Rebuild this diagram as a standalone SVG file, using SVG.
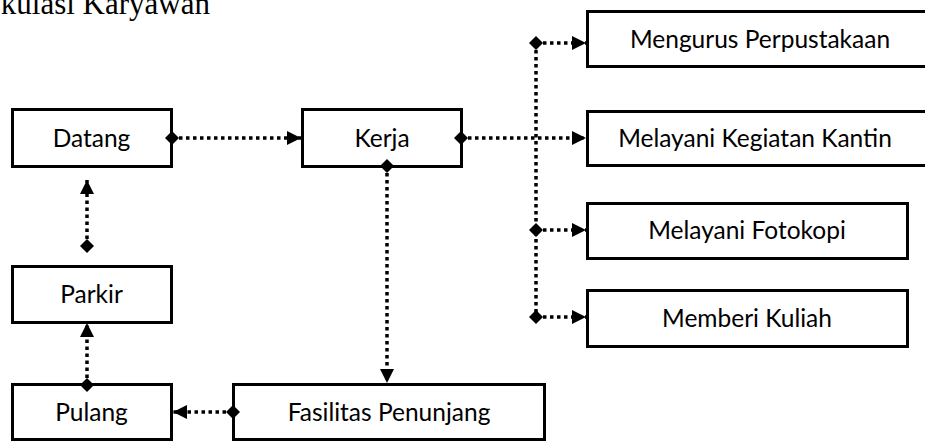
<svg xmlns="http://www.w3.org/2000/svg" width="925" height="442" viewBox="0 0 925 442">
  <style>
    .box { fill: #ffffff; stroke: #000000; stroke-width: 3; }
    .lbl { font-family: "Lato", "Open Sans", "Liberation Sans", sans-serif; font-size: 24.5px; fill: #000000; text-anchor: middle; }
    .title { font-family: "Liberation Serif", "Times New Roman", serif; font-size: 31px; fill: #000000; }
    .link { fill: none; stroke: #000000; stroke-width: 3.5; stroke-dasharray: 3.5 3.5; }
  </style>
  <defs>
    <marker id="arrow" markerUnits="userSpaceOnUse" markerWidth="15" markerHeight="15" refX="14" refY="7" orient="auto" overflow="visible">
      <path d="M0,0 L14,7 L0,14 Z" fill="#000000"/>
    </marker>
    <marker id="diamond" markerUnits="userSpaceOnUse" markerWidth="15" markerHeight="15" refX="7" refY="7" orient="auto" overflow="visible">
      <path d="M0,7 L7,0 L14,7 L7,14 Z" fill="#000000"/>
    </marker>
  </defs>

  <text class="title" x="210" y="14" text-anchor="end">kulasi Karyawan</text>

  <g id="datang">
    <rect class="box" x="12.5" y="109.5" width="159" height="57"/>
    <text class="lbl" x="91.5" y="147">Datang</text>
  </g>
  <g id="kerja">
    <rect class="box" x="302.5" y="109.5" width="159" height="57"/>
    <text class="lbl" x="382" y="147">Kerja</text>
  </g>
  <g id="parkir">
    <rect class="box" x="12.5" y="266.5" width="159" height="56"/>
    <text class="lbl" x="91.5" y="303">Parkir</text>
  </g>
  <g id="pulang">
    <rect class="box" x="12.5" y="384.5" width="159" height="55"/>
    <text class="lbl" x="91.5" y="421">Pulang</text>
  </g>
  <g id="fasilitas">
    <rect class="box" x="233.5" y="384.5" width="311" height="55"/>
    <text class="lbl" x="389" y="421">Fasilitas Penunjang</text>
  </g>
  <g id="perpustakaan">
    <rect class="box" x="587.5" y="11.5" width="360" height="55"/>
    <text class="lbl" x="760" y="48">Mengurus Perpustakaan</text>
  </g>
  <g id="kantin">
    <rect class="box" x="587.5" y="111.5" width="360" height="54"/>
    <text class="lbl" x="755" y="147">Melayani Kegiatan Kantin</text>
  </g>
  <g id="fotokopi">
    <rect class="box" x="587.5" y="203.5" width="320" height="55"/>
    <text class="lbl" x="747" y="239">Melayani Fotokopi</text>
  </g>
  <g id="kuliah">
    <rect class="box" x="587.5" y="290.5" width="320" height="56"/>
    <text class="lbl" x="747" y="327">Memberi Kuliah</text>
  </g>

  <g id="connectors">
    <!-- main flow -->
    <path class="link" d="M172,138 L301,138" marker-start="url(#diamond)" marker-end="url(#arrow)"/>
    <path class="link" d="M387,166 L387,383" marker-start="url(#diamond)" marker-end="url(#arrow)"/>
    <path class="link" d="M233,412 L173,412" marker-start="url(#diamond)" marker-end="url(#arrow)"/>
    <path class="link" d="M87,385 L87,323" marker-start="url(#diamond)" marker-end="url(#arrow)"/>
    <path class="link" d="M87,246 L87,180" marker-start="url(#diamond)" marker-end="url(#arrow)"/>
    <!-- work branches -->
    <path class="link" d="M461,138 L586,138" marker-start="url(#diamond)" marker-end="url(#arrow)"/>
    <path class="link" d="M536,43 L536,317"/>
    <path class="link" d="M536,43 L586,43" marker-start="url(#diamond)" marker-end="url(#arrow)"/>
    <path class="link" d="M536,230 L586,230" marker-start="url(#diamond)" marker-end="url(#arrow)"/>
    <path class="link" d="M536,317 L586,317" marker-start="url(#diamond)" marker-end="url(#arrow)"/>
  </g>
</svg>
